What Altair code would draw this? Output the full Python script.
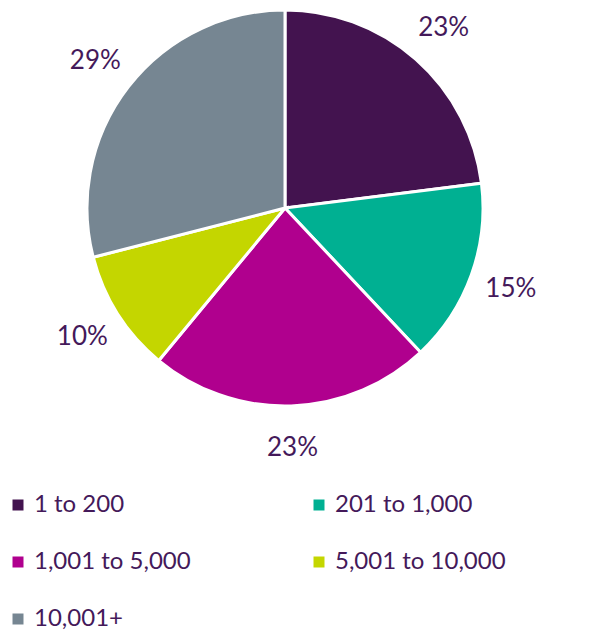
import altair as alt
import pandas as pd

categories = ["1 to 200", "201 to 1,000", "1,001 to 5,000", "5,001 to 10,000", "10,001+"]
values = [23, 15, 23, 10, 29]
labels = ["23%", "15%", "23%", "10%", "29%"]
colors = ["#43134f", "#00b092", "#b0008e", "#c4d600", "#768692"]

df = pd.DataFrame({"category": categories, "value": values, "label": labels,
                   "idx": list(range(len(categories)))})

txt_color = "#44195a"
cx, cy = 277, 200

base = alt.Chart(df).encode(
    theta=alt.Theta("value:Q", stack=True),
    order=alt.Order("idx:Q"),
    x=alt.value(cx),
    y=alt.value(cy),
)

arcs = base.mark_arc(outerRadius=198, stroke="white", strokeWidth=3).encode(
    color=alt.Color(
        "category:N",
        scale=alt.Scale(domain=categories, range=colors),
        sort=categories,
        legend=alt.Legend(
            title=None, orient="none", legendX=-2, legendY=485, columns=2,
            direction="horizontal",
            symbolType="square", symbolSize=121, symbolStrokeWidth=0,
            labelFontSize=24, labelFont="Lato", labelColor=txt_color,
            labelOffset=4, rowPadding=33, columnPadding=116, labelLimit=400,
        ),
    )
)

texts = base.mark_text(radius=240, fontSize=26, font="Lato", color=txt_color).encode(
    text="label:N"
)

chart = alt.layer(arcs, texts).properties(
    width=598, height=622, autosize=alt.AutoSizeParams(type="none"), padding=0
).configure_view(stroke=None)

chart.save("out.html", embed_options={"renderer": "svg", "actions": False})
